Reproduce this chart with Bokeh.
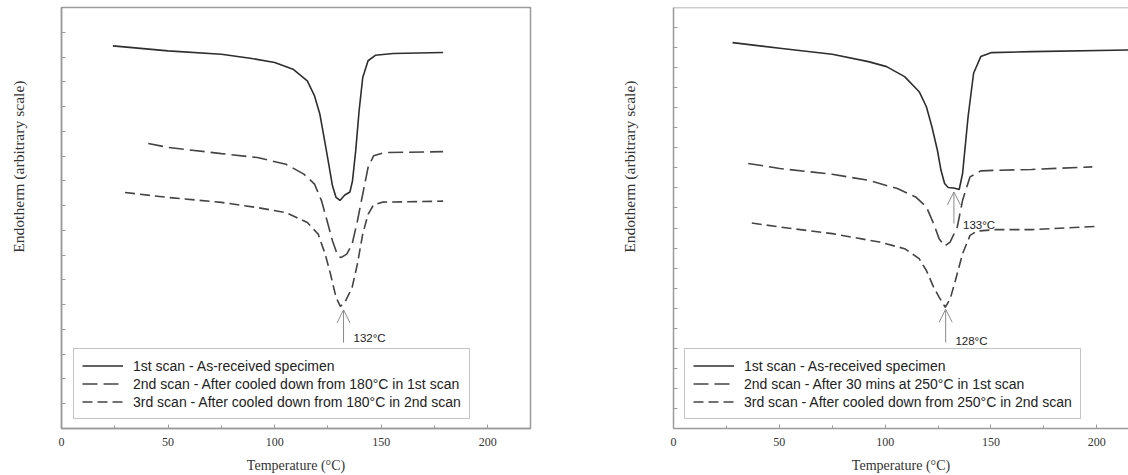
from bokeh.plotting import figure
from bokeh.models import (FixedTicker, Legend, LegendItem, Arrow, OpenHead, Label, Span, Title)
from bokeh.layouts import row
from bokeh.embed import file_html
from bokeh.resources import INLINE

# ---------------- Left panel (cooled down from 180 C) ----------------
L1_T = [24.1, 50, 75, 88.5, 100, 108.6, 115.3, 118.7, 121.2, 122.9, 125.1, 127.1, 128.8, 130.6,
        132.9, 135.3, 136.5, 138.0, 139.6, 141.3, 143.8, 147.2, 155.6, 179]
L1_E = [15.45, 15.25, 15.11, 14.95, 14.78, 14.51, 14.04, 13.43, 12.69, 11.88, 10.81, 9.80, 9.33, 9.21,
        9.43, 9.55, 10.0, 11.21, 12.83, 14.17, 14.85, 15.07, 15.14, 15.18]

L2_T = [40.7, 50, 75, 91.9, 105.3, 113.7, 118.7, 122.0, 124.6, 127.1, 129.6, 131.1, 133.8, 136.3,
        138.8, 141.3, 143.8, 146.4, 151.4, 179]
L2_E = [11.51, 11.35, 11.10, 10.94, 10.67, 10.27, 9.87, 9.19, 8.38, 7.58, 6.97, 6.90, 7.04, 7.44,
        8.38, 9.46, 10.54, 11.01, 11.14, 11.18]

L3_T = [29.8, 50, 75, 91.9, 105.3, 115.3, 120.4, 123.7, 126.2, 128.8, 130.8, 132.9, 136.3, 138.8,
        141.3, 143.8, 146.4, 150.5, 179]
L3_E = [9.53, 9.33, 9.13, 8.92, 8.72, 8.32, 7.85, 7.04, 6.23, 5.29, 4.93, 5.09, 5.69, 6.64,
        7.85, 8.65, 9.03, 9.14, 9.18]

L_LABELS = ["1st scan - As-received specimen",
            "2nd scan - After cooled down from 180°C in 1st scan",
            "3rd scan - After cooled down from 180°C in 2nd scan"]

# ---------------- Right panel (30 mins at 250 C) ----------------
R1_T = [27.9, 50.2, 75, 92.1, 100.7, 109.2, 116.1, 119.5, 122.1, 124.7, 126.4, 128.1, 129.8, 132.4,
        135.0, 136.6, 139.2, 141.8, 145.2, 150.3, 169.2, 215]
R1_E = [19.25, 18.97, 18.67, 18.30, 18.05, 17.55, 16.80, 16.05, 15.05, 13.88, 12.88, 12.22, 12.02, 12.00,
        11.92, 12.72, 15.55, 17.72, 18.55, 18.75, 18.80, 18.88]

R2_T = [35.3, 50.2, 75, 92.1, 105.8, 114.4, 119.5, 122.9, 125.5, 128.1, 130.7, 134.1, 136.6, 140.1,
        145.2, 152.1, 169.2, 197.9]
R2_E = [13.22, 12.97, 12.68, 12.38, 11.97, 11.55, 11.05, 10.22, 9.47, 9.10, 9.30, 10.05, 11.38, 12.55,
        12.85, 12.88, 12.92, 13.05]

R3_T = [37.0, 50.2, 75, 97.3, 109.2, 116.1, 119.5, 122.9, 125.5, 128.4, 130.7, 133.2, 136.6, 140.1,
        143.5, 152.1, 169.2, 200]
R3_E = [10.25, 10.05, 9.72, 9.30, 8.97, 8.47, 7.88, 7.05, 6.55, 6.05, 6.45, 7.38, 8.72, 9.63,
        9.85, 9.92, 9.92, 10.08]

R_LABELS = ["1st scan - As-received specimen",
            "2nd scan - After 30 mins at 250°C in 1st scan",
            "3rd scan - After cooled down from 250°C in 2nd scan"]

X_MAJOR = [0, 50, 100, 150, 200]
X_MINOR = [25, 75, 125, 175]

FRAME = "#9a9a9a"
INK = "#333333"
ARROW = "#8a8a8a"
SERIF = "Liberation Serif"
SANS = "Liberation Sans"
H = 475
YTITLE = "Endotherm (arbitrary scale)"


def make_fig(width, x_end, y_end, border_left, border_right, outline, gap):
    p = figure(width=width, height=H, x_range=(0, x_end), y_range=(0, y_end),
               output_backend="svg", toolbar_location=None,
               min_border_left=border_left, min_border_right=border_right,
               min_border_top=7, min_border_bottom=47)
    p.grid.visible = False
    p.outline_line_color = FRAME if outline else None
    p.outline_line_width = 1.5

    xa = p.xaxis[0]
    xa.ticker = FixedTicker(ticks=X_MAJOR, minor_ticks=X_MINOR)
    xa.axis_line_color = FRAME
    xa.axis_line_width = 1.5
    xa.major_tick_line_color = FRAME
    xa.minor_tick_line_color = FRAME
    xa.major_tick_in = 4
    xa.major_tick_out = 0
    xa.minor_tick_in = 3
    xa.minor_tick_out = 0
    xa.major_label_text_font = SERIF
    xa.major_label_text_font_size = "12px"
    xa.major_label_text_color = INK
    xa.major_label_standoff = 9
    xa.axis_label = "Temperature (°C)"
    xa.axis_label_text_font = SERIF
    xa.axis_label_text_font_size = "14px"
    xa.axis_label_text_font_style = "normal"
    xa.axis_label_text_color = INK
    xa.axis_label_standoff = 9

    ya = p.yaxis[0]
    # visible unlabelled ticks are minor ticks; the single major tick at the
    # origin is invisible and only reserves room between axis and title
    ya.ticker = FixedTicker(ticks=[0], minor_ticks=list(range(1, int(y_end))))
    ya.axis_line_color = FRAME
    ya.axis_line_width = 1.5
    ya.minor_tick_line_color = FRAME
    ya.minor_tick_in = 4
    ya.minor_tick_out = 0
    ya.major_tick_line_color = None
    ya.major_tick_in = 0
    ya.major_tick_out = gap
    ya.major_label_text_color = None
    ya.major_label_text_font_size = "8px"
    ya.major_label_standoff = 0

    p.add_layout(Title(text=YTITLE, align="right", offset=73, vertical_align="bottom",
                       text_font=SERIF, text_font_size="15.6px", text_font_style="normal",
                       text_color=INK, standoff=0), "left")
    return p


def add_curves(p, data, labels, loc):
    dashes = ["solid", "15 6", "10 5"]
    colors = ["#2e2e2e", "#444444", "#444444"]
    rs = []
    for (t, e), dash, col in zip(data, dashes, colors):
        rs.append(p.line(t, e, line_color=col, line_width=1.6, line_dash=dash))
    items = [LegendItem(label=lab, renderers=[r]) for lab, r in zip(labels, rs)]
    legend = Legend(items=items, location=loc, orientation="vertical",
                    label_text_font=SANS, label_text_font_size="14px", label_text_color="#222222",
                    glyph_width=41, glyph_height=17, label_height=17, label_standoff=10,
                    spacing=1, padding=8, margin=0,
                    border_line_color="#8a8a8a", border_line_width=1.5,
                    background_fill_color="white", background_fill_alpha=1)
    p.add_layout(legend)


def add_peak(p, t, y_tip, y_tail, text, tx, ty):
    p.add_layout(Arrow(end=OpenHead(size=13, line_color=ARROW, line_width=1),
                       x_start=t, y_start=y_tail, x_end=t, y_end=y_tip,
                       line_color=ARROW, line_width=1))
    p.add_layout(Label(x=tx, y=ty, text=text, text_font=SANS, text_font_size="11.5px",
                       text_color="#222222", text_align="left", text_baseline="middle"))


# Left figure: page x 0..600, frame 61..530
left = make_fig(600, 220, 17, 61, 70, True, 35)
add_curves(left, [(L1_T, L1_E), (L2_T, L2_E), (L3_T, L3_E)], L_LABELS, (12, 9))
add_peak(left, 132.3, 4.79, 3.47, "132°C", 137.0, 3.65)

# Right figure: page x 600..1128, frame 673..1128
right = make_fig(528, 215, 21, 73, 0, False, 36)
right.add_layout(Span(location=21, dimension="width", line_color=FRAME, line_width=1.5))
add_curves(right, [(R1_T, R1_E), (R2_T, R2_E), (R3_T, R3_E)], R_LABELS, (11, 9))
add_peak(right, 132.5, 11.8, 10.22, "133°C", 136.8, 10.13)
add_peak(right, 128.6, 5.95, 4.30, "128°C", 133.2, 4.38)

p = row(left, right)
open("out.html", "w").write(file_html(p, INLINE))
